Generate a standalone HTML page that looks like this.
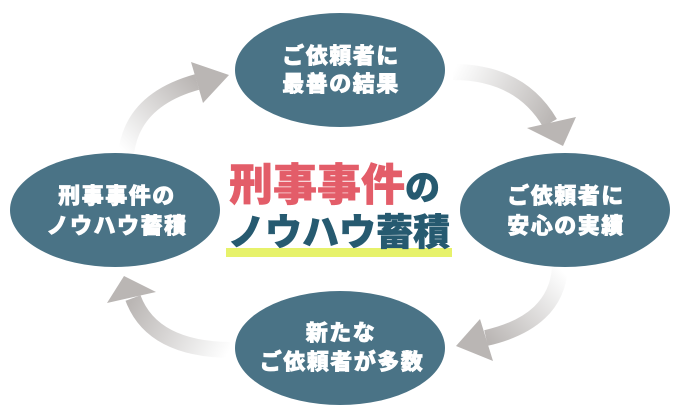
<!DOCTYPE html>
<html>
<head>
<meta charset="utf-8">
<style>
  html,body{margin:0;padding:0;background:#ffffff;}
  svg{display:block;}
  .n{font-family:"Liberation Sans","Noto Sans CJK JP",sans-serif;font-weight:900;font-size:22px;fill:#ffffff;stroke:#ffffff;stroke-width:0.7px;letter-spacing:1.5px;}
  .t{font-family:"Liberation Sans","Noto Sans CJK JP",sans-serif;font-weight:900;}
</style>
</head>
<body>
<svg width="680" height="420" viewBox="0 0 680 420" xmlns="http://www.w3.org/2000/svg">
  <defs>
    <linearGradient id="g1" gradientUnits="userSpaceOnUse" x1="126" y1="154" x2="197" y2="82">
      <stop offset="0" stop-color="#ffffff"/>
      <stop offset="0.15" stop-color="#f5f5f5"/>
      <stop offset="1" stop-color="#bab6b4"/>
    </linearGradient>
    <linearGradient id="g2" gradientUnits="userSpaceOnUse" x1="453" y1="72" x2="550" y2="123">
      <stop offset="0" stop-color="#ffffff"/>
      <stop offset="0.15" stop-color="#f5f5f5"/>
      <stop offset="1" stop-color="#bab6b4"/>
    </linearGradient>
    <linearGradient id="g3" gradientUnits="userSpaceOnUse" x1="560" y1="268" x2="486" y2="338">
      <stop offset="0" stop-color="#ffffff"/>
      <stop offset="0.15" stop-color="#f5f5f5"/>
      <stop offset="1" stop-color="#bab6b4"/>
    </linearGradient>
    <linearGradient id="g4" gradientUnits="userSpaceOnUse" x1="230" y1="350" x2="133" y2="298">
      <stop offset="0" stop-color="#ffffff"/>
      <stop offset="0.15" stop-color="#f5f5f5"/>
      <stop offset="1" stop-color="#bab6b4"/>
    </linearGradient>
  </defs>

  <!-- arrows -->
  <path d="M126,154 Q132,100 197,82" fill="none" stroke="url(#g1)" stroke-width="16"/>
  <polygon points="191,62 229,75 203,103" fill="#bab6b4"/>

  <path d="M453,72 Q520,72 550,123" fill="none" stroke="url(#g2)" stroke-width="16"/>
  <polygon points="527,128 563,146 576,117" fill="#bab6b4"/>

  <path d="M560,268 Q556,322 486,338" fill="none" stroke="url(#g3)" stroke-width="16"/>
  <polygon points="480,319 456,346 493,361" fill="#bab6b4"/>

  <path d="M230,350 Q152,349 133,298" fill="none" stroke="url(#g4)" stroke-width="16"/>
  <polygon points="107,303 124,276 156,292" fill="#bab6b4"/>

  <!-- ellipses -->
  <ellipse cx="340" cy="70" rx="105" ry="57" fill="#4a7386"/>
  <ellipse cx="115" cy="210" rx="105" ry="57" fill="#4a7386"/>
  <ellipse cx="565" cy="210" rx="105" ry="57" fill="#4a7386"/>
  <ellipse cx="340" cy="348" rx="105" ry="57" fill="#4a7386"/>

  <!-- node texts -->
  <text class="n" x="341" y="63.5" text-anchor="middle">ご依頼者に</text>
  <text class="n" x="341" y="91.5" text-anchor="middle">最善の結果</text>

  <text class="n" x="117" y="203.5" text-anchor="middle">刑事事件の</text>
  <text class="n" x="117" y="233.5" text-anchor="middle">ノウハウ蓄積</text>

  <text class="n" x="566" y="203.5" text-anchor="middle">ご依頼者に</text>
  <text class="n" x="566" y="233.5" text-anchor="middle">安心の実績</text>

  <text class="n" x="341" y="340.5" text-anchor="middle">新たな</text>
  <text class="n" x="342" y="369.5" text-anchor="middle">ご依頼者が多数</text>

  <!-- center title -->
  <rect x="226" y="248" width="226" height="9" fill="#e7f26b"/>
  <text class="t" x="229" y="200" font-size="44" fill="#e35d69" stroke="#e35d69" stroke-width="0.6">刑事事件<tspan font-size="35" fill="#265a70" stroke="#265a70">の</tspan></text>
  <text class="t" x="228" y="245" font-size="37" fill="#265a70" stroke="#265a70" stroke-width="0.6">ノウハウ蓄積</text>
</svg>
</body>
</html>
